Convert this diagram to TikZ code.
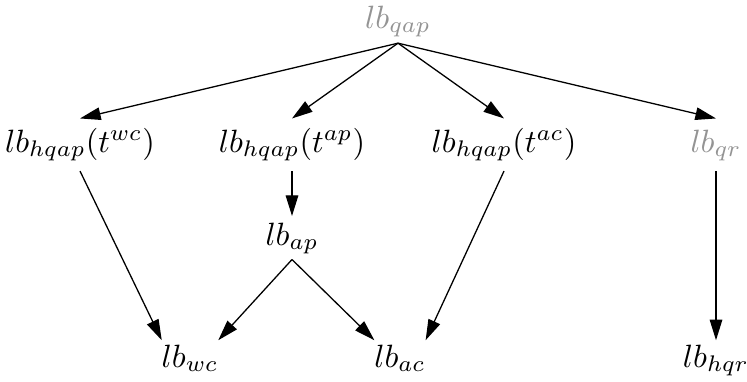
\documentclass[tikz,border=0pt]{standalone}
\usetikzlibrary{arrows.meta}
\tikzset{
  lbl/.style={inner sep=0pt, text height=7pt, text depth=2.5pt, anchor=base,
    font=\fontsize{9.7}{11}\selectfont},
  faint/.style={text=black!42},
  toprow/.style={lbl, outer ysep=2.2pt},
  midrow/.style={lbl, outer ysep=3.4pt},
  aprow/.style={lbl, outer ysep=2pt},
  lowrow/.style={lbl, outer xsep=0pt, outer ysep=1.3pt},
  edge/.style={-{Triangle[length=6.4pt,width=3.9pt]}},
}
\begin{document}
\begin{tikzpicture}[x=0.31pt, y=-0.31pt]
\useasboundingbox (0,0) rectangle (747,381);
% nodes
\node[toprow, faint] (qap) at (398,28) {$lb_{qap}$};
\node[midrow] (hwc) at (80,152) {$lb_{hqap}(t^{wc})$};
\node[midrow] (hap) at (292,152) {$lb_{hqap}(t^{ap})$};
\node[midrow] (hac) at (504,152) {$lb_{hqap}(t^{ac})$};
\node[midrow, faint] (qr) at (716,152) {$lb_{qr}$};
\node[aprow] (ap) at (292,245) {$lb_{ap}$};
\node[lowrow] (wc) at (190,367) {$lb_{wc}$};
\node[lowrow] (ac) at (400,367) {$lb_{ac}$};
\node[lowrow] (hqr) at (716,367) {$lb_{hqr}$};
% edges
\foreach \t in {hwc,hap,hac,qr}
  \draw[edge] (qap.south) -- (\t.north);
\draw[edge] (hwc.south) -- (wc.north west);
\draw[edge] (hap.south) -- (ap.north);
\draw[edge] (ap.south) -- (wc.north east);
\draw[edge] (ap.south) -- (ac.north west);
\draw[edge] (hac.south) -- (ac.north east);
\draw[edge] (qr.south) -- (hqr.north);
\end{tikzpicture}
\end{document}
